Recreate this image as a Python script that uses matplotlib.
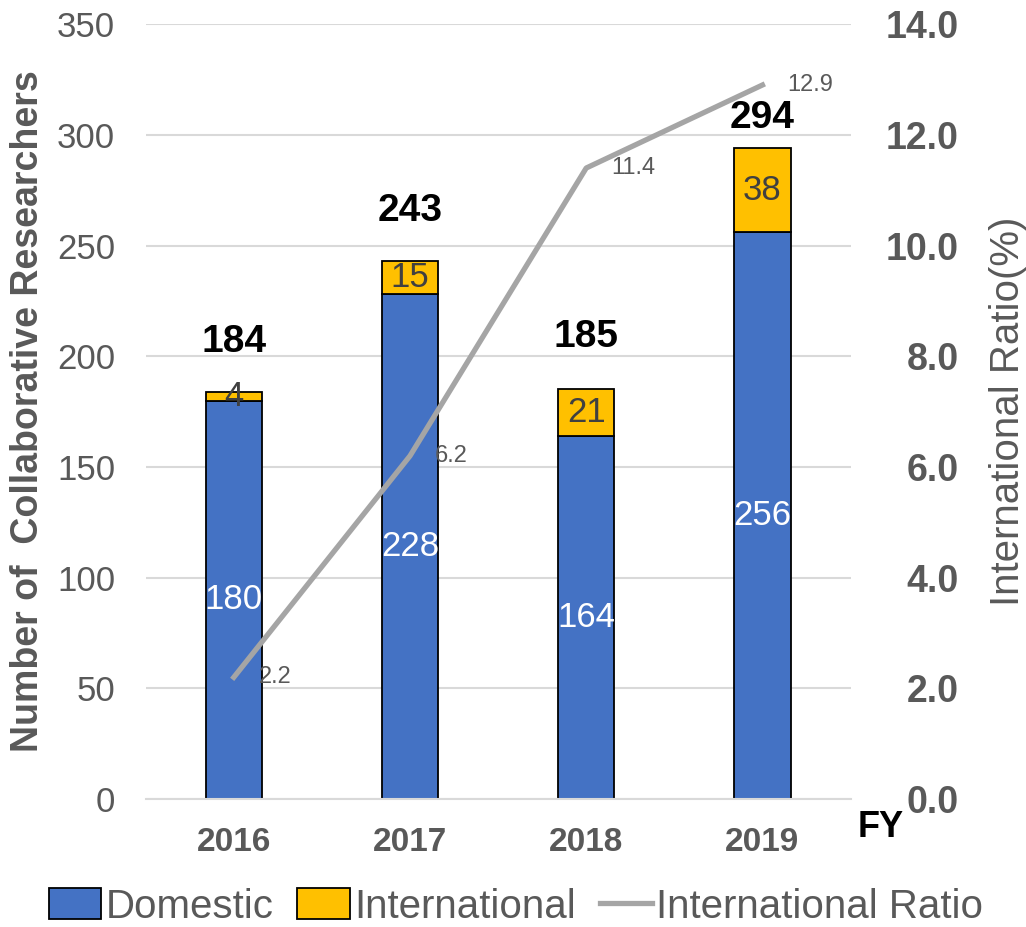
import matplotlib.pyplot as plt
from matplotlib.patches import Patch
from matplotlib.lines import Line2D

plt.rcParams['font.family'] = ['Liberation Sans', 'DejaVu Sans']

years = ['2016', '2017', '2018', '2019']
domestic = [180, 228, 164, 256]
international = [4, 15, 21, 38]
totals = [184, 243, 185, 294]
ratio = [2.2, 6.2, 11.4, 12.9]

# label offsets in points (style only)
total_offsets = [36, 36, 38, 22]

BLUE = '#4472C4'
GOLD = '#FFC000'
LINE = '#A5A5A5'
TXT = '#595959'

fig = plt.figure(figsize=(10.26, 9.27), dpi=100)
ax = fig.add_axes([0.142, 0.138, 0.687, 0.836])
ax2 = ax.twinx()

x = list(range(len(years)))
ax.bar(x, domestic, width=0.32, color=BLUE, edgecolor='black', linewidth=1.3, zorder=2)
ax.bar(x, international, width=0.32, bottom=domestic, color=GOLD, edgecolor='black',
       linewidth=1.3, zorder=2)

for i in x:
    ax.text(i, domestic[i] / 2, str(domestic[i]), ha='center', va='center',
            color='white', fontsize=25, zorder=3)
    ax.text(i, domestic[i] + international[i] / 2, str(international[i]), ha='center',
            va='center', color='#404040', fontsize=25, zorder=3)
    ax.annotate(str(totals[i]), (i, totals[i]), xytext=(0, total_offsets[i]),
                textcoords='offset points', ha='center', va='center',
                fontsize=28, fontweight='bold', color='black')

ax.set_xlim(-0.5, 3.5)
ax.set_ylim(0, 350)
ax.set_yticks(range(0, 351, 50))
ax.set_xticks(x)
ax.set_xticklabels(years)
ax.grid(axis='y', color='#D9D9D9', linewidth=1.5, zorder=0)
ax.set_axisbelow(True)
for s in ['top', 'right', 'left']:
    ax.spines[s].set_visible(False)
ax.spines['bottom'].set_color('#D9D9D9')
ax.spines['bottom'].set_linewidth(1.5)
ax.tick_params(axis='y', length=0, pad=22, labelsize=25, labelcolor=TXT)
ax.tick_params(axis='x', length=0, pad=20, labelsize=24, labelcolor=TXT)
for lab in ax.get_xticklabels():
    lab.set_fontweight('bold')
ax.set_ylabel('Number of  Collaborative Researchers', fontsize=27, fontweight='bold',
              color=TXT, labelpad=8)

ax2.plot(x, ratio, color=LINE, linewidth=3.8, zorder=4)
for i in x:
    ax2.annotate(f'{ratio[i]:.1f}', (i, ratio[i]), xytext=(18, 0),
                 textcoords='offset points', ha='left', va='center',
                 fontsize=17, color=TXT)
ax2.set_ylim(0, 14)
ax2.set_yticks(range(0, 15, 2))
ax2.set_yticklabels([f'{v:.1f}' for v in range(0, 15, 2)])
for s in ax2.spines.values():
    s.set_visible(False)
ax2.tick_params(axis='y', length=0, pad=78, labelsize=27, labelcolor=TXT)
for lab in ax2.get_yticklabels():
    lab.set_ha('right')
    lab.set_fontweight('bold')
ax2.set_ylabel('International Ratio(%)', fontsize=29, color=TXT, labelpad=22)

fig.text(0.836, 0.107, 'FY', fontsize=26, fontweight='bold', color='black',
         ha='left', va='center')

handles = [Patch(facecolor=BLUE, edgecolor='black', linewidth=1.3, label='Domestic'),
           Patch(facecolor=GOLD, edgecolor='black', linewidth=1.3, label='International'),
           Line2D([0], [0], color=LINE, linewidth=3.8, label='International Ratio')]
leg = fig.legend(handles=handles, loc='center', bbox_to_anchor=(0.503, 0.022), ncol=3,
                 frameon=False, fontsize=29, handlelength=1.3, handleheight=0.8,
                 handletextpad=0.1, columnspacing=0.6)
for t in leg.get_texts():
    t.set_color(TXT)

fig.savefig('out.png', dpi=100)
